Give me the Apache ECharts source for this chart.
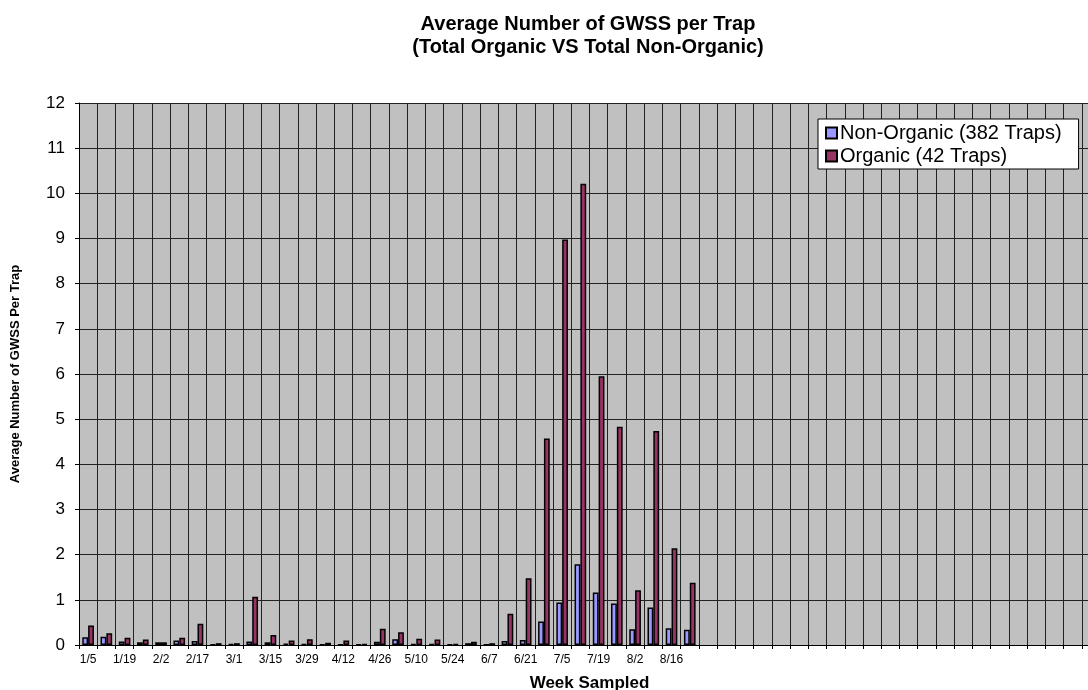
<!DOCTYPE html>
<html>
<head>
<meta charset="utf-8">
<script src="https://cdn.jsdelivr.net/npm/echarts@6/dist/echarts.min.js"></script>
<style>
  html, body { margin: 0; padding: 0; background: #fff; }
  #main { width: 1088px; height: 690px; }
</style>
</head>
<body>
<div id="main"></div>
<script>
const weeks = ["1/5", "1/12", "1/19", "1/26", "2/2", "2/9", "2/17", "2/23", "3/1", "3/8",
  "3/15", "3/22", "3/29", "4/5", "4/12", "4/19", "4/26", "5/3", "5/10", "5/17",
  "5/24", "5/31", "6/7", "6/14", "6/21", "6/28", "7/5", "7/12", "7/19", "7/26",
  "8/2", "8/9", "8/16", "8/23"];
// empty weeks to the right of the data
const emptyWeeks = 22;

const nonOrganic = [0.17, 0.18, 0.08, 0.06, 0.06, 0.10, 0.09, 0.015, 0.02, 0.08,
  0.06, 0.03, 0.02, 0.015, 0.015, 0.015, 0.07, 0.13, 0.02, 0.02,
  0.015, 0.04, 0.01, 0.09, 0.11, 0.52, 0.94, 1.79, 1.16, 0.92,
  0.35, 0.83, 0.37, 0.34];
const organic = [0.43, 0.26, 0.16, 0.12, 0.06, 0.16, 0.47, 0.04, 0.04, 1.07,
  0.22, 0.10, 0.13, 0.05, 0.10, 0.02, 0.36, 0.28, 0.14, 0.12,
  0.02, 0.07, 0.04, 0.69, 1.48, 4.57, 8.98, 10.21, 5.95, 4.83,
  1.21, 4.74, 2.14, 1.38];

const categories = weeks.slice();
for (let i = 0; i < emptyWeeks; i++) categories.push("");

const font = "'Liberation Sans', Arial, sans-serif";
const chart = echarts.init(document.getElementById("main"), null, { renderer: "canvas" });

const option = {
  backgroundColor: "#ffffff",
  animation: false,
  title: {
    text: "Average Number of GWSS per Trap\n(Total Organic VS Total Non-Organic)",
    left: 583,
    top: 8,
    textAlign: "center",
    textStyle: {
      fontFamily: font,
      fontSize: 20,
      fontWeight: "bold",
      color: "#000",
      lineHeight: 23
    }
  },
  legend: {
    orient: "vertical",
    left: 818,
    top: 119,
    backgroundColor: "#ffffff",
    borderColor: "#000",
    borderWidth: 1,
    borderRadius: 0,
    padding: [4, 17, 3, 7],
    itemGap: 3,
    itemWidth: 11,
    itemHeight: 11,
    icon: "rect",
    textStyle: { fontFamily: font, fontSize: 20, color: "#000", padding: [0, 0, 0, -2] },
    data: ["Non-Organic (382 Traps)", "Organic (42 Traps)"]
  },
  grid: {
    left: 79,
    top: 103,
    width: 1021,
    height: 542,
    outerBoundsMode: "none",
    show: true,
    backgroundColor: "#c0c0c0",
    borderWidth: 0
  },
  xAxis: {
    type: "category",
    data: categories,
    name: "Week Sampled",
    nameLocation: "middle",
    nameGap: 30,
    nameTextStyle: { fontFamily: font, fontSize: 17, fontWeight: "bold", color: "#000" },
    axisLine: { lineStyle: { color: "#000", width: 1 } },
    axisTick: { show: true, interval: 0, length: 4, lineStyle: { color: "#000" } },
    axisLabel: { interval: 1, fontFamily: font, fontSize: 12, color: "#000", margin: 9 },
    splitLine: { show: true, interval: 0, lineStyle: { color: "#222", width: 1 } }
  },
  yAxis: {
    type: "value",
    min: 0,
    max: 12,
    interval: 1,
    name: "Average Number of GWSS Per Trap",
    nameLocation: "middle",
    nameGap: 57,
    nameTextStyle: { fontFamily: font, fontSize: 13, fontWeight: "bold", color: "#000" },
    axisLine: { show: true, lineStyle: { color: "#000", width: 1 } },
    axisTick: { show: true, length: 4, lineStyle: { color: "#000" } },
    axisLabel: { fontFamily: font, fontSize: 17, color: "#000", margin: 14 },
    splitLine: { show: true, lineStyle: { color: "#222", width: 1 } }
  },
  series: [
    {
      name: "Non-Organic (382 Traps)",
      type: "bar",
      data: nonOrganic,
      barGap: "0%",
      barCategoryGap: "36%",
      itemStyle: { color: "#9999ff", borderColor: "#000", borderWidth: 1.5 }
    },
    {
      name: "Organic (42 Traps)",
      type: "bar",
      data: organic,
      barGap: "0%",
      barCategoryGap: "36%",
      itemStyle: { color: "#993366", borderColor: "#000", borderWidth: 1.5 }
    }
  ]
};

chart.setOption(option);
</script>
</body>
</html>
